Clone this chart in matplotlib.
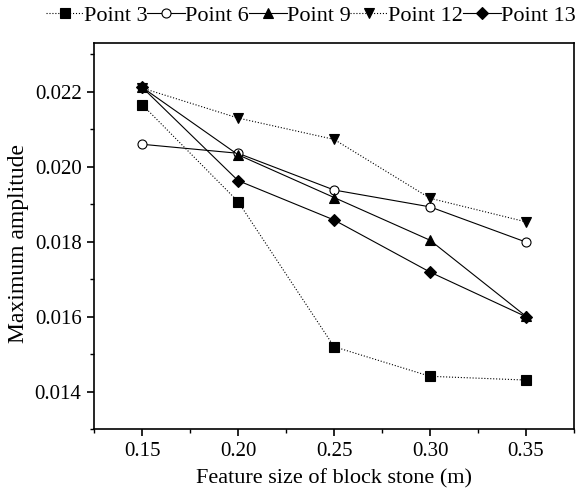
import numpy as np
import matplotlib.pyplot as plt
from matplotlib.ticker import MultipleLocator

plt.rcParams['font.family'] = ['Liberation Serif', 'DejaVu Serif']

# feature size of block stone (m)
sizes = [0.15, 0.20, 0.25, 0.30, 0.35]

# maximum amplitude at each monitoring point
point3 = [0.02166, 0.01907, 0.01520, 0.01441, 0.01431]
point6 = [0.02060, 0.02036, 0.01938, 0.01893, 0.01799]
point9 = [0.02212, 0.02032, 0.01918, 0.01804, 0.01601]
point12 = [0.02210, 0.02130, 0.02073, 0.01916, 0.01853]
point13 = [0.02212, 0.01963, 0.01858, 0.01719, 0.01600]

# name, values, marker, linestyle, face colour, marker size
series = [
    ('Point 3', point3, 's', ':', 'k', 6.5),
    ('Point 6', point6, 'o', '-', 'w', 6.5),
    ('Point 9', point9, '^', '-', 'k', 7.5),
    ('Point 12', point12, 'v', ':', 'k', 7.5),
    ('Point 13', point13, 'D', '-', 'k', 6.5),
]

fig = plt.figure(figsize=(5.81, 4.95), dpi=100)
ax = fig.add_axes([0.162, 0.133, 0.826, 0.780])

for name, vals, mk, ls, fc, ms in series:
    ax.plot(sizes, vals, linestyle=ls, color='k', linewidth=0.8,
            marker=mk, markersize=ms, markerfacecolor=fc,
            markeredgecolor='k', markeredgewidth=0.8, label=name)

ax.set_xlim(0.125, 0.375)
ax.set_ylim(0.013, 0.0233)
ax.xaxis.set_minor_locator(MultipleLocator(0.025))
ax.yaxis.set_minor_locator(MultipleLocator(0.001))
ax.set_xticks(sizes)
ax.set_xticklabels(['%.2f' % s for s in sizes])
ax.set_yticks([0.014, 0.016, 0.018, 0.020, 0.022])
ax.set_yticklabels(['0.014', '0.016', '0.018', '0.020', '0.022'])

ax.tick_params(which='major', direction='out', length=5, width=1.2,
               labelsize=15, pad=4, top=False, right=False)
ax.tick_params(which='minor', direction='out', length=3, width=1.0,
               top=False, right=False)
for sp in ax.spines.values():
    sp.set_linewidth(1.2)

ax.set_xlabel('Feature size of block stone (m)', fontsize=16, labelpad=6)
ax.set_ylabel('Maximum amplitude', fontsize=17)
ax.yaxis.set_label_coords(-0.135, 0.48)

fig.legend(loc='center', bbox_to_anchor=(0.535, 0.968), ncol=5,
           frameon=False, fontsize=16, handlelength=1.7, handletextpad=0.0,
           columnspacing=0.0, borderaxespad=0)

fig.savefig('out.png', dpi=100)
